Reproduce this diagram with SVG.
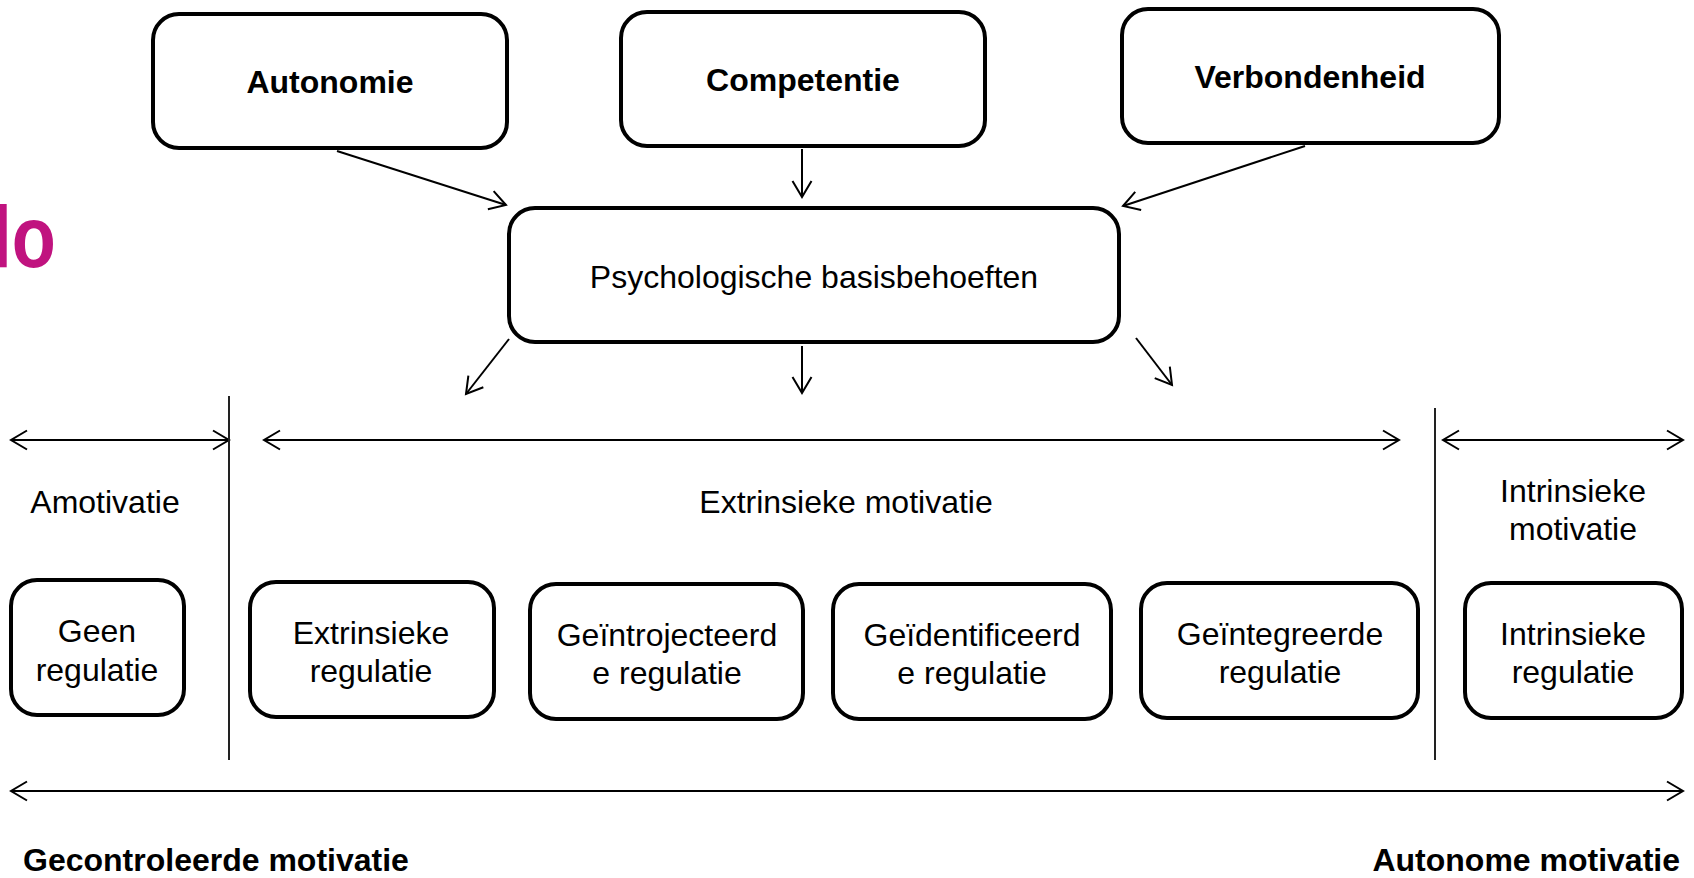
<svg xmlns="http://www.w3.org/2000/svg" width="1694" height="878" viewBox="0 0 1694 878">
<defs>
<style>
.box{fill:#fff;stroke:#000;stroke-width:4}
.t{font-family:"Liberation Sans",Arial,sans-serif;font-size:32px;fill:#000;text-anchor:middle}
.b{font-weight:bold}
.c{fill:none;stroke:#000;stroke-width:2}
.v{fill:none;stroke:#222;stroke-width:2}
</style>
<marker id="ah" markerUnits="userSpaceOnUse" markerWidth="40" markerHeight="40" refX="0" refY="0" viewBox="-20 -20 40 40" orient="auto-start-reverse">
<path d="M-16,-9.5 L0,0 L-16,9.5" fill="none" stroke="#000" stroke-width="2"/>
</marker>
</defs>
<rect width="1694" height="878" fill="#fff"/>
<text x="-10" y="267" transform="scale(0.82 1)" font-family="'Liberation Sans',Arial,sans-serif" font-weight="bold" font-size="88" fill="#C0137F">lo</text>

<g id="autonomie"><rect class="box" x="153" y="14" width="354" height="134" rx="26"/><text class="t b" x="330" y="93">Autonomie</text></g>
<g id="competentie"><rect class="box" x="621" y="12" width="364" height="134" rx="26"/><text class="t b" x="803" y="91">Competentie</text></g>
<g id="verbondenheid"><rect class="box" x="1122" y="9" width="377" height="134" rx="26"/><text class="t b" x="1310" y="88">Verbondenheid</text></g>
<g id="psych"><rect class="box" x="509" y="208" width="610" height="134" rx="26"/><text class="t" x="814" y="288">Psychologische basisbehoeften</text></g>

<g id="geen"><rect class="box" x="11" y="580" width="173" height="135" rx="26"/><text class="t" x="97" y="642">Geen</text><text class="t" x="97" y="681">regulatie</text></g>
<g id="extrinsiek"><rect class="box" x="250" y="582" width="244" height="135" rx="26"/><text class="t" x="371" y="644">Extrinsieke</text><text class="t" x="371" y="682">regulatie</text></g>
<g id="introjected"><rect class="box" x="530" y="584" width="273" height="135" rx="26"/><text class="t" x="667" y="646">Geïntrojecteerd</text><text class="t" x="667" y="684">e regulatie</text></g>
<g id="identified"><rect class="box" x="833" y="584" width="278" height="135" rx="26"/><text class="t" x="972" y="646">Geïdentificeerd</text><text class="t" x="972" y="684">e regulatie</text></g>
<g id="integrated"><rect class="box" x="1141" y="583" width="277" height="135" rx="26"/><text class="t" x="1280" y="645">Geïntegreerde</text><text class="t" x="1280" y="683">regulatie</text></g>
<g id="intrinsiek"><rect class="box" x="1465" y="583" width="217" height="135" rx="26"/><text class="t" x="1573" y="645">Intrinsieke</text><text class="t" x="1573" y="683">regulatie</text></g>

<g id="labels">
<text class="t" x="105" y="513">Amotivatie</text>
<text class="t" x="846" y="513">Extrinsieke motivatie</text>
<text class="t" x="1573" y="502">Intrinsieke</text>
<text class="t" x="1573" y="540">motivatie</text>
<text class="t b" x="23" y="871" style="text-anchor:start">Gecontroleerde motivatie</text>
<text class="t b" x="1680" y="871" style="text-anchor:end">Autonome motivatie</text>
</g>

<g id="connectors">
<line class="c" x1="337" y1="151" x2="506" y2="205" marker-end="url(#ah)"/>
<line class="c" x1="802" y1="149" x2="802" y2="197" marker-end="url(#ah)"/>
<line class="c" x1="1305" y1="146" x2="1123" y2="206" marker-end="url(#ah)"/>
<line class="c" x1="509" y1="339" x2="466" y2="394" marker-end="url(#ah)"/>
<line class="c" x1="802" y1="346" x2="802" y2="393" marker-end="url(#ah)"/>
<line class="c" x1="1136" y1="338" x2="1172" y2="385" marker-end="url(#ah)"/>
<line class="c" x1="11" y1="440" x2="229" y2="440" marker-start="url(#ah)" marker-end="url(#ah)"/>
<line class="c" x1="264" y1="440" x2="1399" y2="440" marker-start="url(#ah)" marker-end="url(#ah)"/>
<line class="c" x1="1443" y1="440" x2="1683" y2="440" marker-start="url(#ah)" marker-end="url(#ah)"/>
<line class="c" x1="11" y1="791" x2="1683" y2="791" marker-start="url(#ah)" marker-end="url(#ah)"/>
<line class="v" x1="229" y1="396" x2="229" y2="760"/>
<line class="v" x1="1435" y1="408" x2="1435" y2="760"/>
</g>
</svg>
